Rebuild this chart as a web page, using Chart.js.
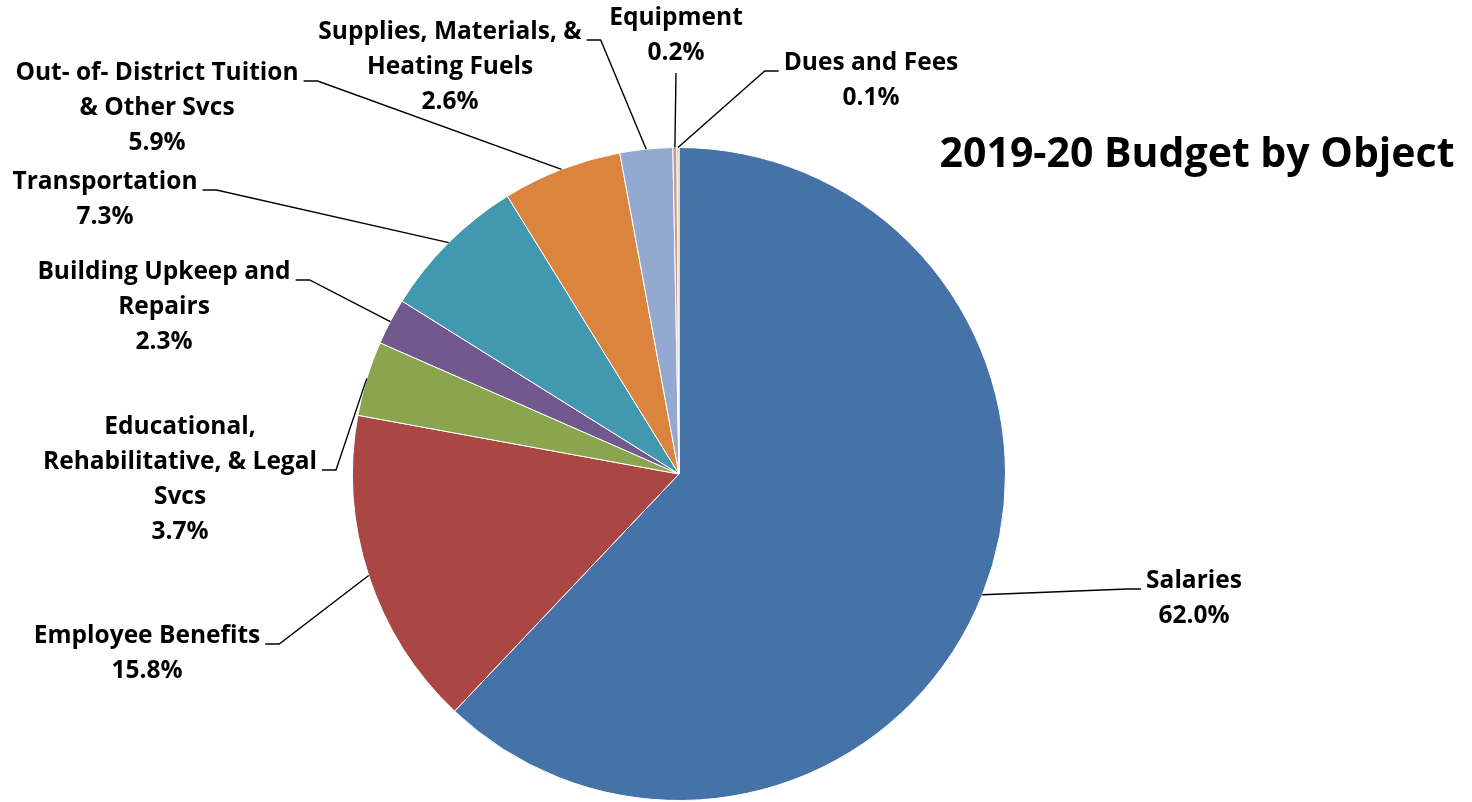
<!DOCTYPE html>
<html>
<head>
<meta charset="utf-8">
<title>2019-20 Budget by Object</title>
<script src="https://cdn.jsdelivr.net/npm/chart.js@4"></script>
<style>
    body { margin: 0; background: #fff; }
    #wrap { width: 1472px; height: 802px; position: relative; }
</style>
</head>
<body>
<div id="wrap"><canvas id="budgetChart"></canvas></div>
<script>
/* DATA */

const categories = [
    ["Salaries"],
    ["Employee Benefits"],
    ["Educational,", "Rehabilitative, & Legal", "Svcs"],
    ["Building Upkeep and", "Repairs"],
    ["Transportation"],
    ["Out- of- District Tuition", "& Other Svcs"],
    ["Supplies, Materials, &", "Heating Fuels"],
    ["Equipment"],
    ["Dues and Fees"]
];
const shares = [62.0, 15.8, 3.7, 2.3, 7.3, 5.9, 2.6, 0.2, 0.1];
const sliceColors = ["#4572A7", "#AA4643", "#89A54E", "#71588F", "#4198AF",
                     "#DB843D", "#93A9CF", "#D19392", "#B9CD96"];

/* label placement: centre x, first line y, which side the leader comes in from */
const labelSpots = [
    { x: 1194, y: 581, side: "left",   line: 0 },
    { x: 147,  y: 636, side: "right",  line: 0 },
    { x: 180,  y: 427, side: "right",  line: 1 },
    { x: 164,  y: 272, side: "right",  line: 0 },
    { x: 105,  y: 182, side: "right",  line: 0 },
    { x: 157,  y: 73,  side: "right",  line: 0 },
    { x: 450,  y: 32,  side: "right",  line: 0 },
    { x: 676,  y: 18,  side: "bottom", line: 0 },
    { x: 871,  y: 63,  side: "left",   line: 0 }
];

const FONT = "bold 24.5px 'Open Sans'";
const LINE_H = 35;

/* Labels + leader lines */

const outsideLabels = {
    id: "outsideLabels",
    afterDatasetsDraw(chart) {
        const ctx = chart.ctx;
        const arcs = chart.getDatasetMeta(0).data;
        ctx.save();
        ctx.font = FONT;
        ctx.fillStyle = "#000";
        ctx.textAlign = "center";
        ctx.textBaseline = "middle";
        ctx.strokeStyle = "#000";
        ctx.lineWidth = 1.4;

        arcs.forEach((arc, i) => {
            const spot = labelSpots[i];
            const lines = categories[i].concat([shares[i].toFixed(1) + "%"]);
            lines.forEach((t, k) => ctx.fillText(t, spot.x, spot.y + k * LINE_H));

            const mid = (arc.startAngle + arc.endAngle) / 2;
            const sx = arc.x + Math.cos(mid) * arc.outerRadius;
            const sy = arc.y + Math.sin(mid) * arc.outerRadius;

            ctx.beginPath();
            ctx.moveTo(sx, sy);
            if (spot.side === "bottom") {
                ctx.lineTo(spot.x, spot.y + (lines.length - 1) * LINE_H + 20);
            } else {
                const w = ctx.measureText(lines[spot.line]).width;
                const ly = spot.y + spot.line * LINE_H + 8;
                const dir = spot.side === "right" ? 1 : -1;
                const edge = spot.x + dir * (w / 2 + 5);
                ctx.lineTo(edge + dir * 14, ly);
                ctx.lineTo(edge, ly);
            }
            ctx.stroke();
        });

        ctx.font = "bold 41px 'Open Sans'";
        ctx.textAlign = "center";
        ctx.fillText("2019-20 Budget by Object", 1197, 155);
        ctx.restore();
    }
};

/* Pie Chart */

new Chart(document.getElementById("budgetChart"), {
    type: "pie",
    data: {
        labels: categories.map(c => c.join(" ")),
        datasets: [{
            data: shares,
            backgroundColor: sliceColors,
            borderColor: "#fff",
            borderWidth: 1,
            hoverOffset: 0
        }]
    },
    options: {
        responsive: true,
        maintainAspectRatio: false,
        animation: false,
        layout: { padding: { left: 352, right: 466, top: 147, bottom: 1 } },
        plugins: {
            legend: { display: false },
            tooltip: { enabled: false }
        }
    },
    plugins: [outsideLabels]
});
</script>
</body>
</html>
